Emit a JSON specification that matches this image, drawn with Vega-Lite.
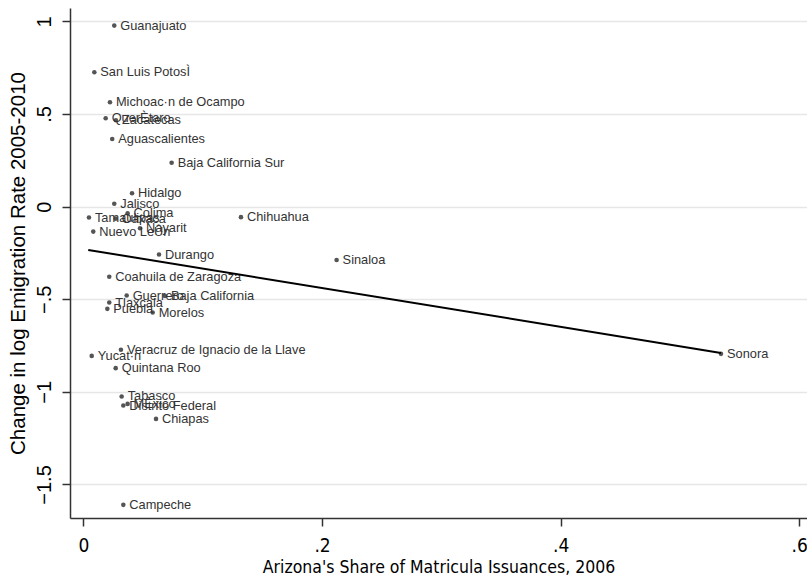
{
  "$schema": "https://vega.github.io/schema/vega-lite/v6.json",
  "width": 737,
  "height": 510,
  "autosize": {"type": "none"},
  "padding": {"left": 70, "top": 8, "right": 0, "bottom": 62},
  "background": "white",
  "config": {
    "view": {"stroke": null},
    "font": "Liberation Sans",
    "axis": {"labelFont": "Liberation Sans", "titleFont": "Liberation Sans"},
    "text": {"font": "Liberation Sans"}
  },
  "datasets": {
    "states": [
      {"state": "Guanajuato", "share": 0.0258, "change": 0.977},
      {"state": "San Luis PotosÌ", "share": 0.0091, "change": 0.725},
      {"state": "Michoac·n de Ocampo", "share": 0.0222, "change": 0.563},
      {"state": "QuerÈtaro", "share": 0.0186, "change": 0.477},
      {"state": "Zacatecas", "share": 0.0272, "change": 0.466},
      {"state": "Aguascalientes", "share": 0.0241, "change": 0.365},
      {"state": "Baja California Sur", "share": 0.0739, "change": 0.237},
      {"state": "Hidalgo", "share": 0.0407, "change": 0.072},
      {"state": "Jalisco", "share": 0.0258, "change": 0.015},
      {"state": "Colima", "share": 0.037, "change": -0.036},
      {"state": "Tamaulipas", "share": 0.0046, "change": -0.059},
      {"state": "Oaxaca", "share": 0.027, "change": -0.065},
      {"state": "Chihuahua", "share": 0.132, "change": -0.057},
      {"state": "Nuevo LeÛn", "share": 0.0082, "change": -0.135},
      {"state": "Nayarit", "share": 0.0474, "change": -0.117},
      {"state": "Durango", "share": 0.0633, "change": -0.259},
      {"state": "Sinaloa", "share": 0.2122, "change": -0.288},
      {"state": "Coahuila de Zaragoza", "share": 0.0216, "change": -0.379},
      {"state": "Guerrero", "share": 0.0362, "change": -0.48},
      {"state": "Baja California", "share": 0.0683, "change": -0.482},
      {"state": "Tlaxcala", "share": 0.0216, "change": -0.518},
      {"state": "Puebla", "share": 0.02, "change": -0.552},
      {"state": "Morelos", "share": 0.058, "change": -0.572},
      {"state": "Veracruz de Ignacio de la Llave", "share": 0.0314, "change": -0.773},
      {"state": "Yucat·n", "share": 0.0069, "change": -0.806},
      {"state": "Quintana Roo", "share": 0.027, "change": -0.872},
      {"state": "Tabasco", "share": 0.032, "change": -1.025},
      {"state": "MÈxico", "share": 0.037, "change": -1.065},
      {"state": "Distrito Federal", "share": 0.0334, "change": -1.074},
      {"state": "Chiapas", "share": 0.0608, "change": -1.146},
      {"state": "Campeche", "share": 0.0334, "change": -1.61},
      {"state": "Sonora", "share": 0.5344, "change": -0.795}
    ],
    "fit": [
      {"share": 0.004, "fitted": -0.234},
      {"share": 0.5344, "fitted": -0.79}
    ]
  },
  "layer": [
    {
      "data": {"name": "states"},
      "mark": {"type": "circle", "size": 21, "color": "#555555", "opacity": 1},
      "encoding": {
        "x": {
          "field": "share", "type": "quantitative",
          "scale": {"domain": [-0.0113, 0.6065], "nice": false, "zero": false},
          "axis": {
            "values": [0, 0.2, 0.4, 0.6],
            "labelExpr": "datum.value == 0 ? '0' : replace(format(datum.value, ''), '0.', '.')",
            "title": "Arizona's Share of Matricula Issuances, 2006",
            "titleFont": "DejaVu Sans Condensed",
            "titleFontSize": 17.5,
            "titleFontWeight": "normal",
            "titleColor": "#000000",
            "titlePadding": 3,
            "labelFont": "DejaVu Sans Condensed",
            "labelFontSize": 19,
            "labelColor": "#000000",
            "labelPadding": 10,
            "labelFlush": false,
            "tickSize": 8,
            "tickColor": "#333333",
            "tickWidth": 1.5,
            "domainColor": "#333333",
            "domainWidth": 1.5,
            "grid": false
          }
        },
        "y": {
          "field": "change", "type": "quantitative",
          "scale": {"domain": [-1.681, 1.072], "nice": false, "zero": false},
          "axis": {
            "values": [-1.5, -1, -0.5, 0, 0.5, 1],
            "labelExpr": "datum.value == 0 ? '0' : replace(format(datum.value, ''), '0.', '.')",
            "title": "Change in log Emigration Rate 2005-2010",
            "titleFont": "Arial",
            "titleFontSize": 20.5,
            "titleFontWeight": "normal",
            "titleColor": "#000000",
            "titlePadding": 6,
            "labelFont": "Arial",
            "labelAngle": -90,
            "labelAlign": "center",
            "labelBaseline": "bottom",
            "labelFontSize": 20,
            "labelColor": "#000000",
            "labelPadding": 8,
            "labelFlush": false,
            "tickSize": 8,
            "tickColor": "#333333",
            "tickWidth": 1.5,
            "domainColor": "#333333",
            "domainWidth": 1.5,
            "grid": true,
            "gridColor": "#e6e6e6",
            "gridWidth": 1.5
          }
        }
      }
    },
    {
      "data": {"name": "states"},
      "mark": {"type": "text", "align": "left", "baseline": "middle", "dx": 6, "fontSize": 12.8, "color": "#333333", "font": "Liberation Sans"},
      "encoding": {
        "x": {"field": "share", "type": "quantitative"},
        "y": {"field": "change", "type": "quantitative"},
        "text": {"field": "state", "type": "nominal"}
      }
    },
    {
      "data": {"name": "fit"},
      "mark": {"type": "line", "color": "#000000", "strokeWidth": 2},
      "encoding": {
        "x": {"field": "share", "type": "quantitative"},
        "y": {"field": "fitted", "type": "quantitative"}
      }
    }
  ]
}
